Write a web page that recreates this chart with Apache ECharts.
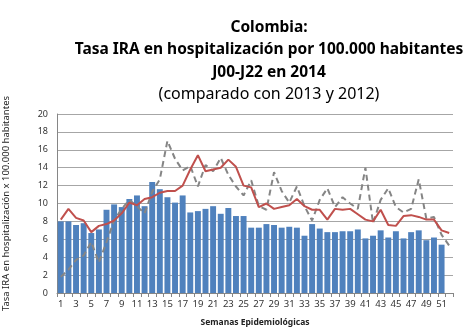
<!DOCTYPE html>
<html>
<head>
<meta charset="utf-8">
<script src="https://cdn.jsdelivr.net/npm/echarts@6/dist/echarts.min.js"></script>
<style>
  html, body { margin: 0; padding: 0; background: #ffffff; }
  #chart { width: 467px; height: 327px; }
</style>
</head>
<body>
<div id="chart"></div>
<script>
// Epidemiological weeks 1..52
const weeks = Array.from({ length: 52 }, (_, i) => String(i + 1));

// Hospitalisation rate (IRA J00-J22) per 100.000 inhabitants
const rate2014 = [8.0, 8.0, 7.6, 7.8, 6.7, 7.1, 9.3, 9.9, 9.6, 10.5,
  10.9, 9.7, 12.4, 11.6, 10.7, 10.1, 10.9, 9.0, 9.15, 9.4,
  9.7, 8.85, 9.5, 8.6, 8.6, 7.3, 7.3, 7.7, 7.6, 7.3,
  7.4, 7.3, 6.4, 7.7, 7.2, 6.8, 6.8, 6.9, 6.9, 7.1,
  6.1, 6.4, 7.0, 6.2, 6.9, 6.1, 6.8, 7.0, 5.9, 6.2,
  5.4, null];

const rate2013 = [8.2, 9.4, 8.4, 8.1, 6.8, 7.5, 7.7, 8.1, 8.9, 10.1,
  9.8, 10.5, 10.7, 11.2, 11.4, 11.4, 12.0, 13.8, 15.4, 13.6,
  13.8, 14.0, 14.9, 14.1, 12.0, 11.8, 9.6, 10.0, 9.4, 9.6,
  9.8, 10.5, 9.7, 9.3, 9.3, 8.2, 9.4, 9.3, 9.4, 8.8,
  8.2, 8.0, 9.3, 7.6, 7.5, 8.6, 8.7, 8.5, 8.2, 8.2,
  7.0, 6.7];

const rate2012 = [1.8, 2.6, 3.7, 4.2, 5.7, 3.4, 5.7, 8.1, 9.4, 10.4,
  9.7, 8.9, 11.3, 12.7, 17.0, 15.0, 13.7, 14.2, 11.9, 14.3,
  13.6, 15.1, 13.2, 11.9, 10.9, 12.6, 9.7, 9.3, 13.5, 11.4,
  10.1, 11.9, 9.7, 8.1, 10.4, 11.7, 9.6, 10.7, 10.0, 9.4,
  14.0, 7.8, 10.4, 11.7, 9.6, 9.0, 9.4, 12.7, 8.3, 8.5,
  6.5, 5.3];

const titleLines = [
  'Colombia:',
  'Tasa IRA en hospitalización por 100.000 habitantes',
  'J00-J22 en 2014'
];
const subtitleLine = '(comparado con 2013 y 2012)';
const yAxisTitle = 'Tasa IRA en hospitalización x 100.000 habitantes';
const xAxisTitle = 'Semanas Epidemiológicas';

const font = 'Noto Sans, sans-serif';
const chart = echarts.init(document.getElementById('chart'), null, { renderer: 'canvas' });

const boldTitle = { fontFamily: font, fontSize: 15.5, fontWeight: 'bold', color: '#000' };

chart.setOption({
  animation: false,
  backgroundColor: '#ffffff',
  title: [
    { text: titleLines[0], left: 264, top: 15, textAlign: 'center', textStyle: boldTitle },
    { text: titleLines[1], left: 264, top: 37, textAlign: 'center', textStyle: boldTitle },
    { text: titleLines[2], left: 264, top: 60, textAlign: 'center', textStyle: boldTitle },
    { text: subtitleLine, left: 264, top: 81, textAlign: 'center',
      textStyle: { fontFamily: font, fontSize: 16, fontWeight: 'normal', color: '#000' } }
  ],
  grid: { left: 57, right: 14, top: 114, bottom: 34, containLabel: false, outerBoundsMode: 'none' },
  xAxis: {
    type: 'category',
    data: weeks,
    boundaryGap: true,
    name: xAxisTitle,
    nameLocation: 'middle',
    nameGap: 25,
    nameTextStyle: { fontFamily: font, fontSize: 8.5, fontWeight: 'bold', color: '#222' },
    axisLine: { lineStyle: { color: '#868686', width: 1 } },
    axisTick: { show: true, interval: 0, length: 4, lineStyle: { color: '#868686' } },
    axisLabel: { interval: 1, margin: 6, fontFamily: font, fontSize: 9.5, color: '#333' },
    splitLine: { show: false }
  },
  yAxis: {
    type: 'value',
    min: 0, max: 20, interval: 2,
    name: yAxisTitle,
    nameLocation: 'middle',
    nameGap: 46,
    nameTextStyle: { fontFamily: font, fontSize: 9.5, color: '#222' },
    axisLine: { show: true, lineStyle: { color: '#868686', width: 1 } },
    axisTick: { show: false },
    axisLabel: { margin: 9, fontFamily: font, fontSize: 9, color: '#333' },
    splitLine: { lineStyle: { color: '#a6a6a6', width: 1 } }
  },
  series: [
    {
      name: '2014', type: 'bar', data: rate2014,
      barCategoryGap: '22%',
      itemStyle: { color: '#4f81bd' },
      z: 1
    },
    {
      name: '2013', type: 'line', data: rate2013,
      symbol: 'none',
      lineStyle: { color: '#c0504d', width: 2 },
      z: 3
    },
    {
      name: '2012', type: 'line', data: rate2012,
      symbol: 'none',
      lineStyle: { color: '#858585', width: 2, type: [6, 4] },
      z: 2
    }
  ]
});
</script>
</body>
</html>
